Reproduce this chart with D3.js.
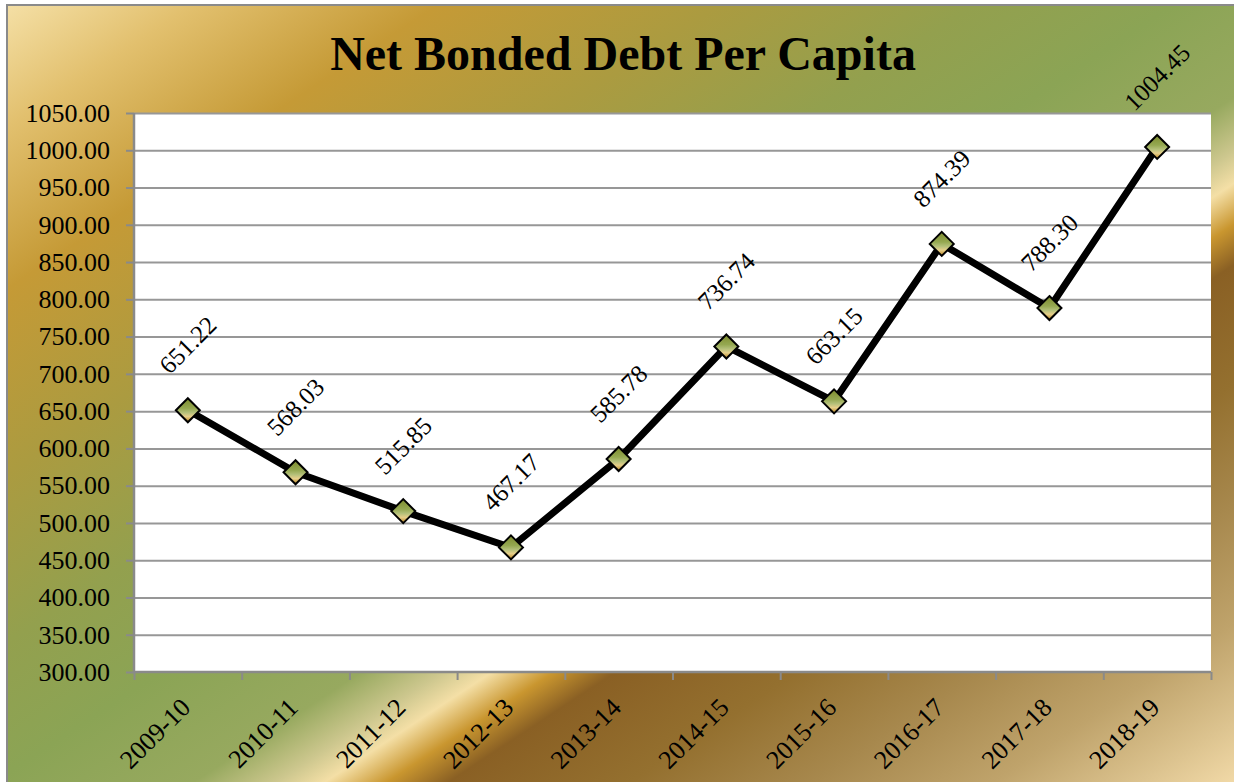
<!DOCTYPE html>
<html>
<head>
<meta charset="utf-8">
<script src="https://cdn.jsdelivr.net/npm/d3@7"></script>
<style>
  html, body { margin: 0; padding: 0; background: #ffffff; }
  svg { display: block; }
  text { font-family: "Liberation Serif", "Times New Roman", serif; fill: #000; }
</style>
</head>
<body>
<svg id="chart" width="1234" height="782"></svg>
<script>
// ---- data ----
const fiscalYears = ["2009-10", "2010-11", "2011-12", "2012-13", "2013-14",
                     "2014-15", "2015-16", "2016-17", "2017-18", "2018-19"];
const debtPerCapita = [651.22, 568.03, 515.85, 467.17, 585.78,
                       736.74, 663.15, 874.39, 788.30, 1004.45];
const yTickValues = d3.range(300, 1051, 50);
const chartTitle = "Net Bonded Debt Per Capita";

// ---- layout ----
const W = 1234, H = 782;
const plot = { left: 134, top: 113, right: 1211, bottom: 672 };

const svg = d3.select("#chart");
const defs = svg.append("defs");

// gold / moss background gradient across the chart area
const bgLen = 1340, bgDir = [0.55, 0.835];
const bgStops = [
  [0, "#f6e2aa"], [110, "#e2c06e"], [245, "#c59a36"], [400, "#ab9b40"],
  [540, "#93a04e"], [650, "#8ba455"], [760, "#97a95f"], [805, "#cdc78e"],
  [832, "#f4dfa6"], [866, "#c9962f"], [900, "#8a6024"], [1000, "#94702f"],
  [1100, "#a7884d"], [1200, "#bfa36b"], [1280, "#dcc38f"], [1340, "#f4dcaa"]
];
defs.append("linearGradient")
    .attr("id", "bgGrad")
    .attr("gradientUnits", "userSpaceOnUse")
    .attr("x1", 0).attr("y1", 0)
    .attr("x2", bgDir[0] * bgLen).attr("y2", bgDir[1] * bgLen)
  .selectAll("stop").data(bgStops).join("stop")
    .attr("offset", d => d[0] / bgLen)
    .attr("stop-color", d => d[1]);

// marker fill
defs.append("linearGradient")
    .attr("id", "markerGrad")
    .attr("x1", 0).attr("y1", 0).attr("x2", 0).attr("y2", 1)
  .selectAll("stop").data([
    [0, "#7d8b2e"], [0.42, "#95a851"], [0.6, "#b4c07a"],
    [0.76, "#e6cf8a"], [0.9, "#c9a048"], [1, "#9f7c2c"]
  ]).join("stop")
    .attr("offset", d => d[0])
    .attr("stop-color", d => d[1]);

// chart area
svg.append("rect")
    .attr("x", 7).attr("y", 5)
    .attr("width", W + 20).attr("height", H + 20)
    .attr("fill", "url(#bgGrad)")
    .attr("stroke", "#8a8a8a")
    .attr("stroke-width", 2);

// plot area
svg.append("rect")
    .attr("x", plot.left).attr("y", plot.top)
    .attr("width", plot.right - plot.left).attr("height", plot.bottom - plot.top)
    .attr("fill", "#ffffff");

// ---- scales ----
const x = d3.scaleBand().domain(fiscalYears).range([plot.left, plot.right]).padding(0);
const xEdges = d3.scaleLinear().domain([0, fiscalYears.length]).range([plot.left, plot.right]);
const y = d3.scaleLinear().domain([300, 1050]).range([plot.bottom, plot.top]);

// ---- gridlines ----
svg.append("g")
    .attr("transform", `translate(${plot.left},0)`)
    .call(d3.axisLeft(y).tickValues(yTickValues.slice(1))
            .tickSize(-(plot.right - plot.left)).tickFormat(""))
    .call(g => g.select(".domain").remove())
    .call(g => g.selectAll(".tick line").attr("stroke", "#979797").attr("stroke-width", 2));

// ---- y axis ----
svg.append("g")
    .attr("transform", `translate(${plot.left},0)`)
    .call(d3.axisLeft(y).tickValues(yTickValues).tickFormat(d3.format(".2f"))
            .tickSize(8).tickPadding(16))
    .call(g => g.select(".domain").attr("stroke", "#8a8a8a").attr("stroke-width", 2.5)
                 .attr("d", `M0,${plot.top}V${plot.bottom}`))
    .call(g => g.selectAll(".tick line").attr("stroke", "#8a8a8a").attr("stroke-width", 2))
    .call(g => g.selectAll(".tick text")
                 .style("font-family", '"Liberation Serif", "Times New Roman", serif')
                 .style("font-size", "26px").attr("fill", "#000"));

// ---- x axis ----
svg.append("g")
    .attr("transform", `translate(0,${plot.bottom})`)
    .call(d3.axisBottom(xEdges).tickValues(d3.range(0, fiscalYears.length + 1))
            .tickSize(8).tickFormat(""))
    .call(g => g.select(".domain").attr("stroke", "#8a8a8a").attr("stroke-width", 2.5)
                 .attr("d", `M${plot.left},0H${plot.right}`))
    .call(g => g.selectAll(".tick line").attr("stroke", "#8a8a8a").attr("stroke-width", 2));

svg.append("g").selectAll("text")
  .data(fiscalYears).join("text")
    .attr("transform", d => `translate(${x(d) + x.bandwidth() / 2 + 4},${plot.bottom + 37}) rotate(-45)`)
    .attr("text-anchor", "end")
    .style("font-size", "26px")
    .text(d => d);

// ---- line ----
const points = fiscalYears.map((d, i) => ({ year: d, value: debtPerCapita[i] }));
svg.append("path")
    .datum(points)
    .attr("fill", "none")
    .attr("stroke", "#000")
    .attr("stroke-width", 7)
    .attr("stroke-linejoin", "round")
    .attr("d", d3.line().x(d => x(d.year) + x.bandwidth() / 2).y(d => y(d.value)));

// ---- markers ----
const diamond = {
  draw(ctx, size) {
    const r = Math.sqrt(size / 2);
    ctx.moveTo(0, -r); ctx.lineTo(r, 0); ctx.lineTo(0, r); ctx.lineTo(-r, 0); ctx.closePath();
  }
};
svg.append("g").selectAll("path")
  .data(points).join("path")
    .attr("transform", d => `translate(${x(d.year) + x.bandwidth() / 2},${y(d.value)})`)
    .attr("d", d3.symbol(diamond, 2 * 12 * 12))
    .attr("fill", "url(#markerGrad)")
    .attr("stroke", "#000")
    .attr("stroke-width", 2);

// ---- data labels (rotated, sitting above each point) ----
const labelFmt = d3.format(".2f");
const labels = svg.append("g").selectAll("text")
  .data(points).join("text")
    .attr("text-anchor", "middle")
    .attr("dominant-baseline", "central")
    .style("font-size", "25px")
    .text(d => labelFmt(d.value));
labels.each(function (d) {
  const w = this.getComputedTextLength();
  const half = 0.7071 * (w + 17) / 2;
  const cx = x(d.year) + x.bandwidth() / 2;
  const cy = y(d.value) - 35 - half;
  d3.select(this).attr("transform", `translate(${cx},${cy}) rotate(-45)`);
});

// ---- title ----
svg.append("text")
    .attr("x", 623).attr("y", 70)
    .attr("text-anchor", "middle")
    .style("font-size", "48px")
    .style("font-weight", "bold")
    .text(chartTitle);
</script>
</body>
</html>
